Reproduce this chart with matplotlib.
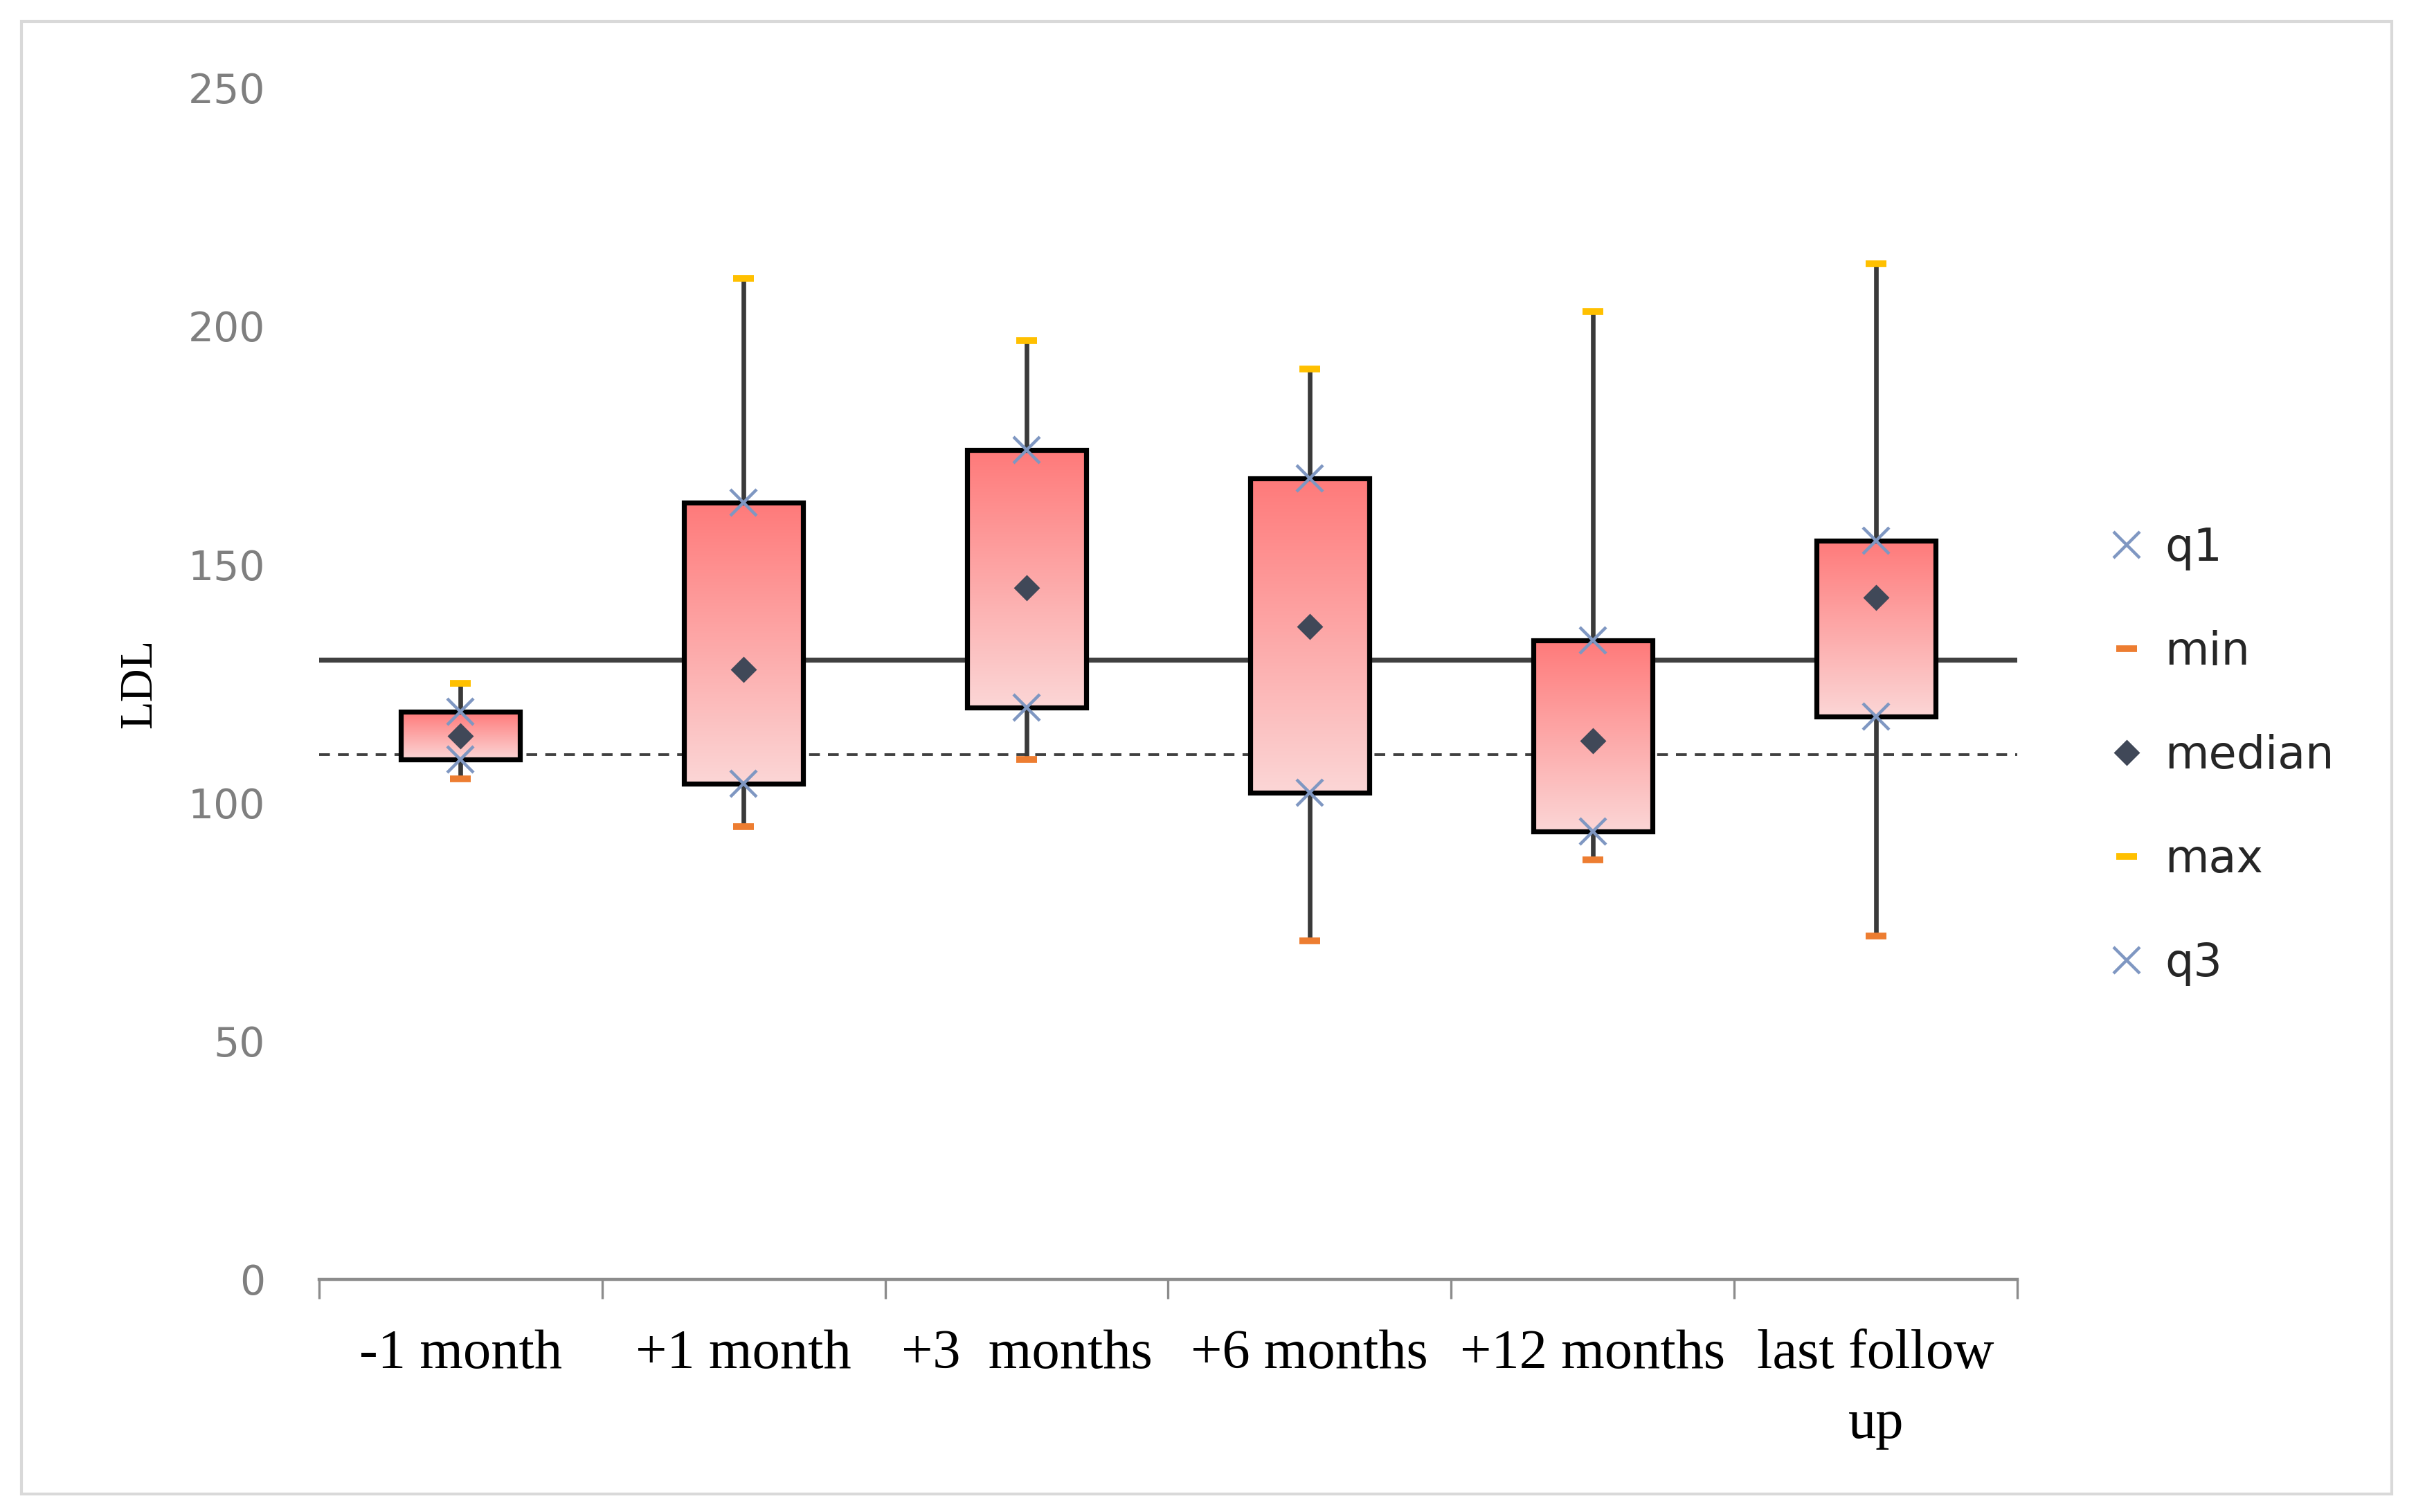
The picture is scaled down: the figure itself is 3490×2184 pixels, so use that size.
import numpy as np
import matplotlib.pyplot as plt
from matplotlib.lines import Line2D
from matplotlib.patches import Rectangle

# LDL values
categories = ["-1 month", "+1 month", "+3  months", "+6 months", "+12 months", "last follow\nup"]
q1_vals = [109, 104, 120, 102, 94, 118]
q3_vals = [119, 163, 174, 168, 134, 155]
median_vals = [114, 128, 145, 137, 113, 143]
min_vals = [105, 95, 109, 71, 88, 72]
max_vals = [125, 210, 197, 191, 203, 213]
ref_solid = 130
ref_dashed = 110

fig = plt.figure(figsize=(17.45, 10.92), dpi=200)
ax = fig.add_axes([0.132, 0.154, 0.703, 0.788])

# reference lines
ax.axhline(ref_solid, color="#404040", lw=2.6, zorder=1)
ax.axhline(ref_dashed, color="#404040", lw=1.4, ls=(0, (4, 3)), zorder=1)

xcol = "#7f97c2"
half = 0.21
top_col = np.array([255, 122, 122]) / 255
bot_col = np.array([251, 214, 214]) / 255
grad = np.linspace(0, 1, 256)[:, None]
grad_img = (top_col * (1 - grad) + bot_col * grad)[:, None, :]

for i in range(len(categories)):
    # whiskers
    ax.plot([i, i], [min_vals[i], q1_vals[i]], color="#3a3a3a", lw=2.4, zorder=2)
    ax.plot([i, i], [q3_vals[i], max_vals[i]], color="#3a3a3a", lw=2.4, zorder=2)
    # gradient box
    ax.imshow(grad_img, extent=[i - half, i + half, q1_vals[i], q3_vals[i]],
              aspect="auto", interpolation="bilinear", zorder=3)
    ax.add_patch(Rectangle((i - half, q1_vals[i]), 2 * half, q3_vals[i] - q1_vals[i],
                           fill=False, edgecolor="black", lw=2.6, zorder=4))

x = np.arange(len(categories))
ax.plot(x, q1_vals, ls="none", marker="x", ms=14, mew=1.6, color=xcol, zorder=5)
ax.plot(x, q3_vals, ls="none", marker="x", ms=14, mew=1.6, color=xcol, zorder=5)
ax.plot(x, min_vals, ls="none", marker="_", ms=11, mew=3.5, color="#ed7d31", zorder=5)
ax.plot(x, max_vals, ls="none", marker="_", ms=11, mew=3.5, color="#ffc000", zorder=5)
ax.plot(x, median_vals, ls="none", marker="D", ms=8.5, color="#404858", zorder=6)

ax.set_xlim(-0.5, len(categories) - 0.5)
ax.set_ylim(0, 250)
ax.set_yticks(range(0, 251, 50))

for s in ["top", "right", "left"]:
    ax.spines[s].set_visible(False)
ax.spines["bottom"].set_color("#8c8c8c")
ax.spines["bottom"].set_linewidth(1.6)

ax.tick_params(axis="y", length=0, pad=28, labelsize=21, labelcolor="#7f7f7f")
ax.set_xticks(np.arange(-0.5, len(categories)), labels=[""] * (len(categories) + 1))
ax.set_xticks(x, minor=True)
ax.set_xticklabels(categories, minor=True, fontsize=29, family="Liberation Serif",
                   linespacing=1.5, va="top")
ax.tick_params(axis="x", which="major", length=10, width=1.2, color="#8c8c8c")
ax.tick_params(axis="x", which="minor", length=0, pad=26)

ax.set_ylabel("LDL", fontsize=24, family="Liberation Serif", labelpad=14)

handles = [
    Line2D([], [], ls="none", marker="x", ms=14, mew=1.6, color=xcol),
    Line2D([], [], ls="none", marker="_", ms=11, mew=3.5, color="#ed7d31"),
    Line2D([], [], ls="none", marker="D", ms=8.5, color="#404858"),
    Line2D([], [], ls="none", marker="_", ms=11, mew=3.5, color="#ffc000"),
    Line2D([], [], ls="none", marker="x", ms=14, mew=1.6, color=xcol),
]
fig.legend(handles, ["q1", "min", "median", "max", "q3"], loc="center left",
           bbox_to_anchor=(0.855, 0.5), frameon=False, fontsize=23.5,
           labelspacing=1.32, handlelength=0.9, handletextpad=0.4,
           labelcolor="#262626")

fig.patches.append(Rectangle((0.009, 0.012), 0.981, 0.974, transform=fig.transFigure,
                             fill=False, edgecolor="#d9d9d9", lw=1.5))

fig.savefig("out.png", dpi=200)
